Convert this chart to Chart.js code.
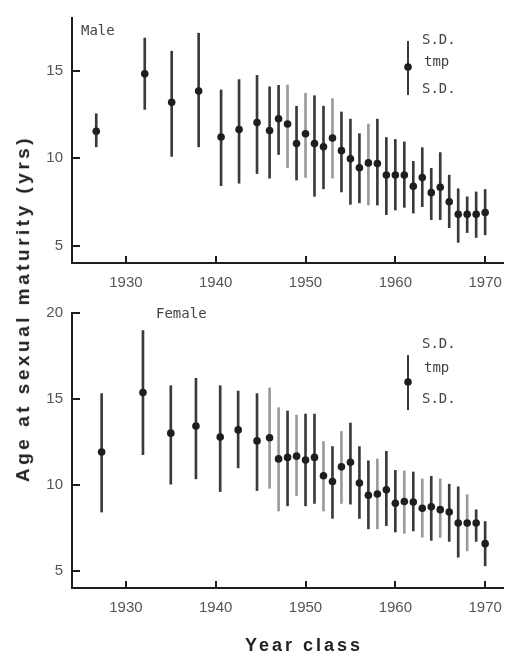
<!DOCTYPE html>
<html>
<head>
<meta charset="utf-8">
<script src="https://cdn.jsdelivr.net/npm/chart.js@4.4.1/dist/chart.umd.min.js"></script>
<style>
  html, body { margin: 0; padding: 0; background: #fff; }
  #wrap { position: relative; width: 513px; height: 657px; overflow: hidden; }
  canvas { position: absolute; left: 0; }
  .lbl { position: absolute; font-family: "DejaVu Sans Mono", "Liberation Mono", monospace;
         font-size: 14px; color: #444; line-height: 1; white-space: nowrap; }
  .title { position: absolute; font-family: "Liberation Sans", Arial, sans-serif; font-weight: bold;
           color: #222; white-space: nowrap; line-height: 1; }
  #ytitle { font-size: 19px; letter-spacing: 3.5px; }
  #xtitle { font-size: 18px; letter-spacing: 3px; }
</style>
</head>
<body>
<div id="wrap">
  <canvas id="male"></canvas>
  <canvas id="female"></canvas>

  <div class="lbl" style="left:81px;top:23px;">Male</div>
  <div class="lbl" style="left:422px;top:32px;">S.D.</div>
  <div class="lbl" style="left:424px;top:54px;">tmp</div>
  <div class="lbl" style="left:422px;top:81px;">S.D.</div>

  <div class="lbl" style="left:156px;top:306px;">Female</div>
  <div class="lbl" style="left:422px;top:336px;">S.D.</div>
  <div class="lbl" style="left:424px;top:360px;">tmp</div>
  <div class="lbl" style="left:422px;top:391px;">S.D.</div>

  <div class="title" id="ytitle">Age at sexual maturity (yrs)</div>
  <div class="title" id="xtitle">Year class</div>
</div>

<script>
  // ---- data ----
  const xTicks = [1930, 1940, 1950, 1960, 1970];
  const maleYTicks = [5, 10, 15];
  const femaleYTicks = [5, 10, 15, 20];

  const maleYears = [1926.7, 1932.1, 1935.1, 1938.1, 1940.6, 1942.6, 1944.6, 1946, 1947, 1948,
    1949, 1950, 1951, 1952, 1953, 1954, 1955, 1956, 1957, 1958, 1959, 1960, 1961, 1962, 1963,
    1964, 1965, 1966, 1967, 1968, 1969, 1970];
  const maleMean = [11.53, 14.81, 13.18, 13.83, 11.2, 11.63, 12.03, 11.57, 12.24, 11.94,
    10.83, 11.39, 10.83, 10.64, 11.14, 10.42, 9.96, 9.44, 9.72, 9.68, 9.03, 9.03, 9.03, 8.39, 8.89,
    8.02, 8.33, 7.5, 6.79, 6.79, 6.79, 6.89];
  const maleUpper = [12.53, 16.85, 16.1, 17.13, 13.89, 14.48, 14.72, 14.07, 14.15, 14.17,
    12.96, 13.7, 13.56, 12.96, 13.39, 12.63, 12.22, 11.39, 11.94, 12.22, 11.17, 11.06, 10.92, 9.81, 10.59,
    9.41, 10.31, 9.02, 8.24, 7.78, 8.06, 8.2];
  const maleLower = [10.64, 12.78, 10.09, 10.64, 8.42, 8.56, 9.11, 8.85, 10.2, 9.44,
    8.74, 8.89, 7.81, 8.24, 8.85, 8.06, 7.35, 7.44, 7.31, 7.31, 6.76, 7.03, 7.18, 6.85, 7.22,
    6.48, 6.48, 6.02, 5.18, 5.74, 5.46, 5.61];

  const femaleYears = [1927.3, 1931.9, 1935, 1937.8, 1940.5, 1942.5, 1944.6, 1946, 1947, 1948,
    1949, 1950, 1951, 1952, 1953, 1954, 1955, 1956, 1957, 1958, 1959, 1960, 1961, 1962, 1963,
    1964, 1965, 1966, 1967, 1968, 1969, 1970];
  const femaleMean = [11.91, 15.37, 13.01, 13.42, 12.78, 13.2, 12.56, 12.74, 11.51, 11.6,
    11.67, 11.45, 11.6, 10.53, 10.2, 11.05, 11.32, 10.11, 9.39, 9.47, 9.71, 8.93, 9.03, 9.0, 8.64,
    8.73, 8.56, 8.42, 7.78, 7.78, 7.78, 6.58];
  const femaleUpper = [15.31, 18.98, 15.77, 16.2, 15.77, 15.46, 15.31, 15.64, 14.49, 14.3,
    14.06, 14.12, 14.12, 12.52, 12.23, 13.11, 13.6, 12.23, 11.4, 11.51, 11.95, 10.84, 10.81, 10.75, 10.35,
    10.5, 10.35, 10.04, 9.89, 9.43, 8.55, 7.87];
  const femaleLower = [8.42, 11.76, 10.04, 10.35, 9.61, 10.99, 9.67, 9.8, 8.48, 8.78,
    9.37, 8.78, 8.92, 8.48, 8.05, 8.92, 8.88, 8.05, 7.44, 7.44, 7.63, 7.26, 7.18, 7.32, 6.95,
    6.77, 6.95, 6.71, 5.79, 6.16, 6.71, 5.29];

  // scanned bars that came out lighter
  const maleLightYears = [1948, 1950, 1953, 1957];
  const femaleLightYears = [1946, 1947, 1949, 1952, 1954, 1958, 1961, 1963, 1965, 1968];

  const INK = '#1e1e1e';
  const BAR_DARK = '#3a3a3a';
  const BAR_LIGHT = '#9a9a9a';
  const TICK_FONT = { family: '"Liberation Sans", Arial, sans-serif', size: 15 };

  // tick marks point inward, like the original
  const inwardTicks = {
    id: 'inwardTicks',
    afterDatasetsDraw(chart, args, o) {
      const { ctx, chartArea: a, scales } = chart;
      ctx.save();
      ctx.strokeStyle = INK;
      ctx.lineWidth = 2;
      ctx.beginPath();
      o.xValues.forEach((v) => {
        const px = Math.round(scales.x.getPixelForValue(v));
        ctx.moveTo(px, a.bottom);
        ctx.lineTo(px, a.bottom - 7);
      });
      o.yValues.forEach((v) => {
        const py = Math.round(scales.y.getPixelForValue(v));
        ctx.moveTo(a.left, py);
        ctx.lineTo(a.left + 8, py);
      });
      ctx.stroke();
      ctx.restore();
    },
  };

  // little key glyph: bar with a dot, texts are html
  const keyGlyph = {
    id: 'keyGlyph',
    afterDatasetsDraw(chart, args, o) {
      const { ctx, chartArea: a } = chart;
      ctx.save();
      ctx.fillStyle = BAR_DARK;
      ctx.fillRect(a.left + o.dx - 1, a.top + o.top, 2, o.bottom - o.top);
      ctx.fillStyle = INK;
      ctx.beginPath();
      ctx.arc(a.left + o.dx, a.top + o.dot, 3.8, 0, Math.PI * 2);
      ctx.fill();
      ctx.restore();
    },
  };

  function makeChart(id, top, height, padTop, xHeight, yMin, yMax, yTicks,
                     years, mean, upper, lower, lightYears, key) {
    const cv = document.getElementById(id);
    cv.style.top = top + 'px';
    cv.width = 513; cv.height = height;
    cv.style.width = '513px'; cv.style.height = height + 'px';

    const bars = years.map((x, i) => ({ x, y: [lower[i], upper[i]] }));
    const dots = years.map((x, i) => ({ x, y: mean[i] }));
    const shades = years.map((x) => lightYears.includes(Math.round(x)) ? BAR_LIGHT : BAR_DARK);

    return new Chart(cv, {
      type: 'scatter',
      data: {
        datasets: [
          { type: 'scatter', data: dots, order: 0, pointRadius: 3.8, pointBackgroundColor: INK,
            pointBorderWidth: 0, showLine: false },
          { type: 'bar', data: bars, order: 1, barThickness: 2, grouped: false,
            backgroundColor: shades, borderWidth: 0 },
        ],
      },
      options: {
        responsive: false,
        animation: false,
        events: [],
        layout: { padding: { top: padTop, right: 4, left: 0, bottom: 0 } },
        plugins: {
          legend: { display: false },
          tooltip: { enabled: false },
          keyGlyph: key,
          inwardTicks: { xValues: xTicks, yValues: yTicks },
        },
        scales: {
          x: {
            type: 'linear', min: 1924, max: 1972, offset: false,
            afterBuildTicks: (s) => { s.ticks = xTicks.map((v) => ({ value: v })); },
            afterFit: (s) => { s.height = xHeight; },
            grid: { display: false, drawTicks: false },
            border: { display: true, color: INK, width: 2 },
            ticks: { font: TICK_FONT, color: '#555', padding: 11, maxRotation: 0,
                     callback: (v) => String(v) },
          },
          y: {
            type: 'linear', min: yMin, max: yMax,
            afterBuildTicks: (s) => { s.ticks = yTicks.map((v) => ({ value: v })); },
            afterFit: (s) => { s.width = 72; },
            grid: { display: false, drawTicks: false },
            border: { display: true, color: INK, width: 2 },
            ticks: { font: TICK_FONT, color: '#555', padding: 9 },
          },
        },
      },
      plugins: [inwardTicks, keyGlyph],
    });
  }

  makeChart('male', 0, 295, 9, 32, 4, 18, maleYTicks,
    maleYears, maleMean, maleUpper, maleLower, maleLightYears,
    { dx: 336, top: 23, bottom: 77, dot: 49 });
  makeChart('female', 295, 362, 3, 69, 4, 20, femaleYTicks,
    femaleYears, femaleMean, femaleUpper, femaleLower, femaleLightYears,
    { dx: 336, top: 42, bottom: 97, dot: 69 });

  // axis titles: y one spans both panels
  const yt = document.getElementById('ytitle');
  yt.style.left = (22 - yt.offsetWidth / 2) + 'px';
  yt.style.top = (308 - yt.offsetHeight / 2) + 'px';
  yt.style.transform = 'rotate(-90deg)';
  const xt = document.getElementById('xtitle');
  xt.style.left = (304 - xt.offsetWidth / 2) + 'px';
  xt.style.top = (645 - xt.offsetHeight / 2) + 'px';
</script>
</body>
</html>
